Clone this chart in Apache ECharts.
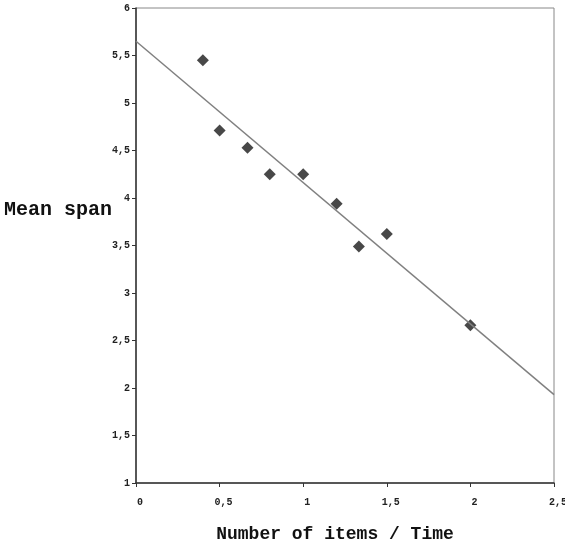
<!DOCTYPE html>
<html><head><meta charset="utf-8">
<script src="https://cdn.jsdelivr.net/npm/echarts@6/dist/echarts.min.js"></script>
<style>html,body{margin:0;padding:0;background:#fff}#c{width:565px;height:545px}</style>
</head><body><div id="c"></div>
<script>
var xValues = [0.4, 0.5, 0.667, 0.8, 1.0, 1.2, 1.333, 1.5, 2.0];
var yValues = [5.45, 4.71, 4.53, 4.25, 4.25, 3.94, 3.49, 3.62, 2.66];
var trendX = [0, 2.5];
var trendY = [5.65, 1.93];
var xTitle = 'Number of items / Time';
var yTitle = 'Mean span';

var pts = xValues.map(function(x, i){ return [x, yValues[i]]; });
var trend = trendX.map(function(x, i){ return [x, trendY[i]]; });
var fmt = function(v){ return String(v).replace('.', ','); };
var chart = echarts.init(document.getElementById('c'));
chart.setOption({
  animation: false,
  backgroundColor: '#fff',
  grid: { left: 136, right: 11, top: 8, bottom: 62, show: true, borderColor: '#888', borderWidth: 1, outerBoundsMode: 'none', containLabel: false },
  xAxis: {
    type: 'value', min: 0, max: 2.5, interval: 0.5,
    name: xTitle, nameLocation: 'middle', nameGap: 42,
    nameTextStyle: { fontFamily: 'Liberation Mono', fontWeight: 'bold', fontSize: 18, color: '#111', padding: [0, 20, 0, 0] },
    axisLine: { lineStyle: { color: '#333', width: 1.5 } },
    axisTick: { inside: false, length: 4, lineStyle: { color: '#333' } },
    axisLabel: { formatter: fmt, fontFamily: 'Liberation Mono', fontWeight: 'bold', fontSize: 10, color: '#222', margin: 14, padding: [0, 0, 0, 8] },
    splitLine: { show: false }
  },
  yAxis: {
    type: 'value', min: 1, max: 6, interval: 0.5,
    axisLine: { show: true, lineStyle: { color: '#333', width: 1.5 } },
    axisTick: { show: true, inside: false, length: 4, lineStyle: { color: '#333' } },
    axisLabel: { formatter: fmt, fontFamily: 'Liberation Mono', fontWeight: 'bold', fontSize: 10, color: '#222', margin: 6 },
    splitLine: { show: false }
  },
  graphic: [{
    type: 'text', left: 4, top: 200,
    style: { text: yTitle, font: 'bold 20px "Liberation Mono"', fill: '#111' }
  }],
  series: [
    { type: 'line', data: trend, symbol: 'none', lineStyle: { color: '#808080', width: 1.5 }, silent: true },
    { type: 'scatter', data: pts, symbol: 'diamond', symbolSize: 12, itemStyle: { color: '#1a1a1a' } }
  ]
});
</script></body></html>
